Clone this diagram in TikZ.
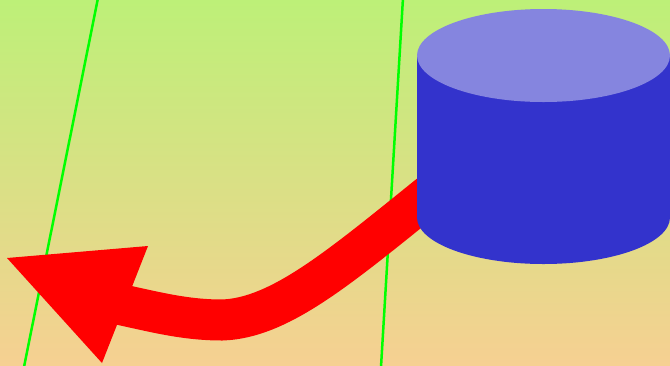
\documentclass[tikz,border=0pt]{standalone}
\usepackage{tikz}
\definecolor{bgtop}{RGB}{189,240,120}
\definecolor{bgbot}{RGB}{246,208,146}
\definecolor{cylside}{RGB}{51,51,204}
\definecolor{cyltop}{RGB}{133,133,223}
\definecolor{linegreen}{RGB}{0,255,0}
\tikzset{
  greenline/.style={draw=linegreen, line width=2.5pt},
  redshaft/.style={draw=red, line width=41pt},
}
\begin{document}
\begin{tikzpicture}[x=1pt,y=-1pt]
\useasboundingbox (0,0) rectangle (670,365);
\clip (0,0) rectangle (670,365);
\shade[top color=bgtop, bottom color=bgbot] (0,0) rectangle (670,365);
% green lines
\coordinate (g1a) at (98,-2);
\coordinate (g1b) at (24,367);
\coordinate (g2a) at (403,-2);
\coordinate (g2b) at (381,367);
\draw[greenline] (g1a) -- (g1b);
\draw[greenline] (g2a) -- (g2b);
% red arrow
\coordinate (s0) at (458,172);
\coordinate (s1) at (222,320);
\coordinate (s2) at (118,304);
\draw[redshaft] (s0) .. controls (350,258) and (285,318) .. (s1)
  .. controls (185,320) and (155,312) .. (s2);
\coordinate (tip) at (7,258);
\coordinate (hb1) at (148,246);
\coordinate (hb2) at (102,363);
\fill[red] (tip) -- (hb1) -- (hb2) -- cycle;
% cylinder
\fill[cylside] (417,55.5) -- (417,217.5)
  arc[start angle=180,end angle=360,x radius=126.5pt,y radius=46.5pt]
  -- (670,55.5) -- cycle;
\fill[cyltop] (543.5,55.5) ellipse[x radius=126.5pt,y radius=46.5pt];
\end{tikzpicture}
\end{document}
